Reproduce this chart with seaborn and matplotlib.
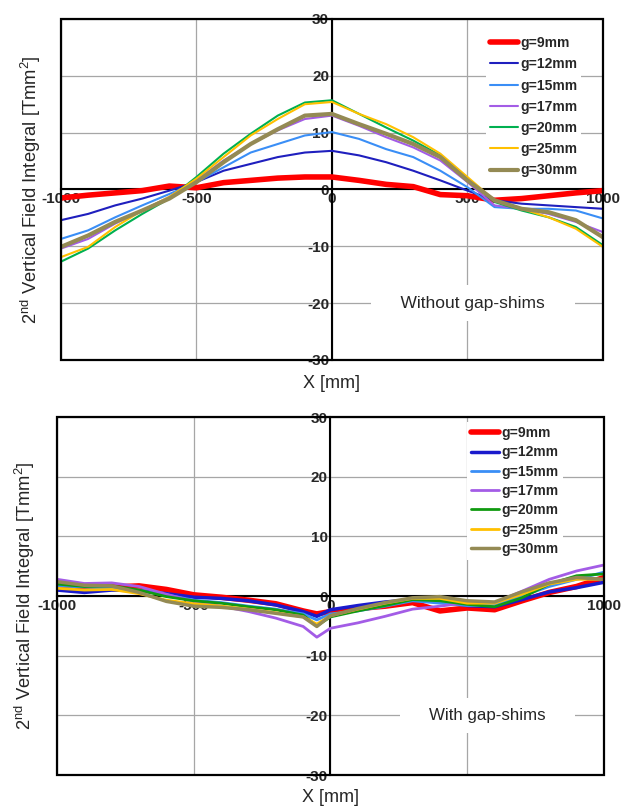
import numpy as np
import pandas as pd
import matplotlib
matplotlib.use('Agg')
import matplotlib.pyplot as plt
import matplotlib.patches as mpatches
import seaborn as sns

# ---- data ----
gaps = ['g=9mm', 'g=12mm', 'g=15mm', 'g=17mm', 'g=20mm', 'g=25mm', 'g=30mm']

x_top = [-1000, -900, -800, -700, -600, -500, -400, -300, -200, -100, 0,
         100, 200, 300, 400, 500, 600, 700, 800, 900, 1000]
g9_top = [-1.5, -1.0, -0.6, -0.2, 0.6, 0.3, 1.2, 1.6, 2.0, 2.2, 2.2,
          1.6, 0.9, 0.5, -0.9, -1.1, -1.9, -1.6, -1.1, -0.6, -0.2]
g12_top = [-5.4, -4.3, -2.8, -1.6, -0.2, 1.3, 3.3, 4.5, 5.7, 6.5, 6.8,
           6.0, 4.8, 3.3, 1.6, -0.2, -1.9, -2.5, -2.8, -3.1, -3.4]
g15_top = [-8.7, -7.2, -4.9, -2.8, -0.8, 1.3, 3.9, 6.5, 8.0, 9.5, 10.1,
           8.9, 7.1, 5.7, 3.3, 0.4, -3.1, -3.4, -3.4, -3.7, -5.1]
g17_top = [-10.4, -8.7, -6.0, -3.7, -1.3, 1.6, 5.1, 8.0, 10.4, 12.4, 13.0,
           11.2, 9.2, 7.4, 5.1, 1.3, -2.8, -3.4, -4.3, -5.7, -7.5]
g20_top = [-12.7, -10.4, -7.2, -4.3, -1.6, 2.2, 6.3, 9.8, 13.0, 15.3, 15.7,
           13.3, 10.9, 8.6, 6.0, 1.9, -2.2, -3.7, -4.9, -6.6, -9.8]
g25_top = [-11.9, -10.1, -6.6, -3.7, -1.3, 1.9, 5.7, 9.5, 12.4, 15.0, 15.4,
           13.3, 11.5, 9.2, 6.3, 2.2, -1.9, -3.4, -4.9, -6.9, -10.1]
g30_top = [-10.1, -8.1, -5.7, -3.7, -1.6, 1.3, 4.8, 8.0, 10.6, 13.0, 13.3,
           11.5, 9.8, 8.0, 5.7, 1.6, -1.9, -3.4, -4.0, -5.4, -8.4]

x_bot = [-1000, -900, -800, -700, -600, -500, -400, -300, -200, -100, -50, 0,
         100, 200, 300, 400, 500, 600, 700, 800, 900, 1000]
g9_bot = [1.6, 1.6, 1.5, 1.7, 1.1, 0.2, -0.2, -0.7, -1.3, -2.5, -3.0, -2.6,
          -2.1, -1.7, -1.1, -2.5, -2.0, -2.3, -0.8, 0.6, 1.6, 3.1]
g12_bot = [1.0, 0.6, 1.0, 0.9, 0.4, -0.2, -0.4, -0.8, -1.5, -2.6, -3.4, -2.3,
           -1.6, -1.0, -0.6, -0.6, -1.6, -1.8, -0.6, 0.7, 1.4, 2.3]
g15_bot = [1.7, 1.5, 1.3, 0.9, 0.2, -0.7, -1.1, -1.7, -2.2, -3.0, -4.0, -3.0,
           -2.5, -1.7, -0.8, -1.2, -1.6, -1.6, 0.0, 1.6, 2.8, 4.0]
g17_bot = [2.8, 2.1, 2.2, 1.6, 0.3, -0.9, -1.7, -2.6, -3.7, -5.1, -6.9, -5.4,
           -4.5, -3.4, -2.2, -1.7, -1.1, -1.1, 0.8, 2.8, 4.2, 5.2]
g20_bot = [2.0, 1.6, 1.7, 1.0, -0.1, -0.8, -1.2, -1.8, -2.3, -3.2, -5.0, -3.5,
           -2.5, -1.6, -0.6, -0.8, -1.4, -1.8, -0.3, 2.0, 3.4, 3.7]
g25_bot = [1.3, 1.0, 1.1, 0.4, -0.7, -1.3, -1.7, -2.2, -2.8, -3.5, -4.7, -3.3,
           -2.2, -1.2, -0.4, -0.4, -1.2, -1.2, 0.3, 2.0, 2.8, 2.8]
g30_bot = [2.4, 1.8, 1.7, 0.6, -0.9, -1.7, -1.9, -2.3, -2.9, -3.5, -5.1, -3.3,
           -2.1, -1.1, -0.3, -0.1, -0.8, -1.0, 0.7, 2.2, 3.1, 2.8]

top_series = [g9_top, g12_top, g15_top, g17_top, g20_top, g25_top, g30_top]
bot_series = [g9_bot, g12_bot, g15_bot, g17_bot, g20_bot, g25_bot, g30_bot]

# 色と線幅
colors_top = ['#FF0000', '#1F1FBE', '#3A8EF6', '#A35CE6', '#00B050', '#FFC000', '#948A54']
colors_bot = ['#FF0000', '#1A1ACC', '#3A8EF6', '#A35CE6', '#109A10', '#FFC000', '#948A54']
widths_top = [4.0, 1.5, 1.5, 1.5, 1.5, 1.5, 3.0]
widths_bot = [4.0, 2.5, 2.0, 2.0, 2.0, 2.0, 2.5]


def make_df(xs, series):
    rows = []
    for name, ys in zip(gaps, series):
        rows.append(pd.DataFrame({'x': xs, 'y': ys, 'gap': name}))
    return pd.concat(rows, ignore_index=True)


sns.set_style('white')
plt.rcParams['font.family'] = ['Liberation Sans', 'DejaVu Sans']
plt.rcParams['mathtext.default'] = 'regular'
plt.rcParams['axes.unicode_minus'] = False


def draw_panel(ax, df, colors, widths, note, note_xy, note_size, leg_anchor, leg_spacing,
               xlab_y, ylab_x):
    sns.lineplot(data=df, x='x', y='y', hue='gap', size='gap',
                 palette=dict(zip(gaps, colors)), sizes=dict(zip(gaps, widths)),
                 estimator=None, sort=False, legend=False, ax=ax, zorder=3)
    ax.set_xlim(-1000, 1000)
    ax.set_ylim(-30, 30)
    ax.set_xticks([-1000, -500, 0, 500, 1000])
    ax.set_yticks([-30, -20, -10, 0, 10, 20, 30])
    ax.grid(True, color='#A6A6A6', lw=0.9)
    ax.set_axisbelow(True)

    # 軸を原点に移動
    ax.spines['left'].set_position(('data', 0))
    ax.spines['bottom'].set_position(('data', 0))
    for s in ['left', 'bottom']:
        ax.spines[s].set_linewidth(1.5)
        ax.spines[s].set_color('black')
    for s in ['right', 'top']:
        ax.spines[s].set_visible(False)
    ax.add_patch(mpatches.Rectangle((0, 0), 1, 1, transform=ax.transAxes, fill=False,
                                    lw=1.6, ec='black', zorder=4, clip_on=False))
    ax.tick_params(axis='both', direction='in', length=4, width=1, color='black',
                   labelsize=11, pad=2)
    for lab in ax.get_xticklabels() + ax.get_yticklabels():
        lab.set_fontweight('bold')

    ax.set_xlabel('X [mm]', fontsize=13)
    ax.set_ylabel('2$^{nd}$ Vertical Field Integral [Tmm$^{2}$]', fontsize=13.2)
    ax.xaxis.set_label_coords(0.5, xlab_y)
    ax.yaxis.set_label_coords(ylab_x, 0.5)

    ax.text(note_xy[0], note_xy[1], '    ' + note + '    ', fontsize=note_size,
            ha='center', va='center', zorder=3,
            bbox=dict(fc='white', ec='none', boxstyle='square,pad=0.6'))

    leg = ax.legend(handles=ax.lines[:7], labels=gaps, loc='upper left',
                    bbox_to_anchor=leg_anchor, frameon=True, fancybox=False,
                    edgecolor='none', facecolor='white', framealpha=1,
                    prop={'weight': 'bold', 'size': 10}, handlelength=2.0,
                    handletextpad=0.15, labelspacing=leg_spacing,
                    borderpad=0.3, borderaxespad=0)
    leg.set_zorder(5)


fig = plt.figure(figsize=(6.3, 8.08), dpi=100)
ax1 = fig.add_axes([0.0968, 0.5545, 0.8602, 0.422])
ax2 = fig.add_axes([0.0905, 0.0408, 0.8682, 0.4431])

draw_panel(ax1, make_df(x_top, top_series), colors_top, widths_top,
           'Without gap-shims', (520, -20), 12.5, (0.784, 0.962), 0.52, -0.044, -0.033)
draw_panel(ax2, make_df(x_bot, bot_series), colors_bot, widths_bot,
           'With gap-shims', (575, -20), 12.2, (0.75, 0.986), 0.38, -0.039, -0.036)

fig.savefig('out.png', dpi=100)
